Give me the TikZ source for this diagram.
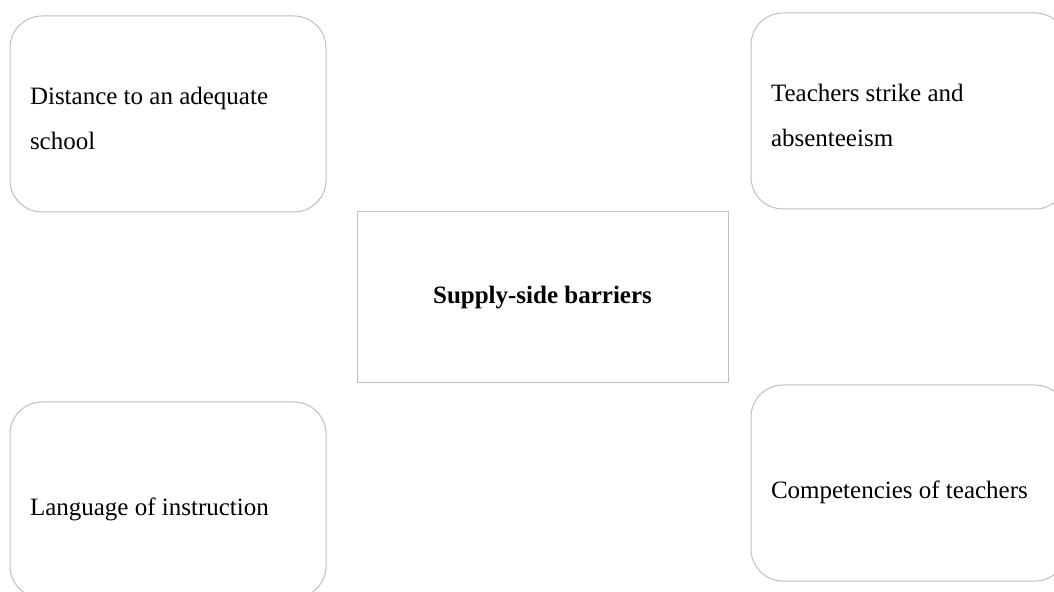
\documentclass[tikz,border=0pt]{standalone}
\usepackage{fontspec}
\setmainfont{Liberation Serif}
\begin{document}
\begin{tikzpicture}[
  x=0.5pt, y=-0.5pt,
  barrierbox/.style={rectangle, draw=gray!50, line width=0.5pt, rounded corners=16pt, minimum width=158pt, minimum height=98pt, text width=138pt, inner xsep=10pt, align=flush left, font=\fontsize{12.5}{22.5}\selectfont},
  oneline/.style={text height=18pt},
  twolines/.style={text height=13pt},
  hubbox/.style={rectangle, draw=gray!50, line width=0.5pt, minimum width=185.5pt, minimum height=85.5pt, font=\fontsize{12.5}{15}\selectfont\bfseries}
]
  \useasboundingbox (0,0) rectangle (1054,592);
  \clip (0,0) rectangle (1054,592);

  % Centre box
  \node[hubbox] (supply) at (542.5,297.5) {Supply-side barriers};

  % Left column
  \node[barrierbox, twolines] (distance) at (168,114) {Distance to an adequate\\school};
  \node[barrierbox, oneline] (language) at (168,500) {Language of instruction};

  % Right column
  \node[barrierbox, twolines] (strike) at (909,111) {Teachers strike and\\absenteeism};
  \node[barrierbox, oneline] (competency) at (909,483) {Competencies of teachers};
\end{tikzpicture}
\end{document}
